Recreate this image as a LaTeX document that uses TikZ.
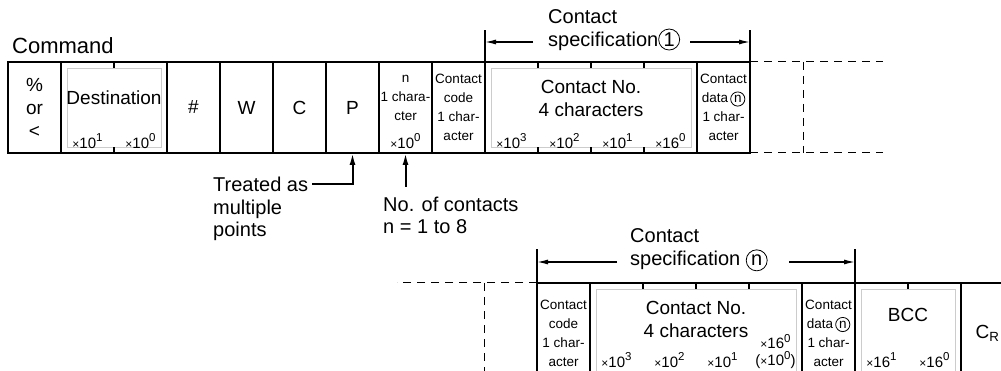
\documentclass[tikz,border=0pt]{standalone}
\usepackage{fontspec}
\setmainfont{Liberation Sans}
\usetikzlibrary{arrows.meta,positioning,calc}

\newcommand{\txtbig}{\fontsize{19}{23}\selectfont}
\newcommand{\txtlbl}{\fontsize{20}{23}\selectfont}
\newcommand{\txtsmall}{\fontsize{13.5}{19}\selectfont}
\newcommand{\txtmult}{\fontsize{15}{17}\selectfont}
\newcommand{\circnum}[1]{\tikz[baseline=(char.base)]\node[circle,draw,line width=0.8pt,inner sep=0pt,minimum size=1.05em](char){#1};}
% x base^power, the way the tables print it
\newcommand{\mulpow}[2]{{\fontsize{12}{12}\selectfont×}#1\raisebox{0.45em}{\fontsize{11.5}{11.5}\selectfont#2}}

\begin{document}
\begin{tikzpicture}[
    x=1pt, y=-1pt,
    cellbox/.style={
        rectangle,
        draw,
        line width=1.2pt,
        outer sep=0pt,
        inner sep=0pt,
        minimum width=53pt,
        minimum height=91pt,
        align=center,
        font=\txtbig
    },
    smallbox/.style={cellbox, font=\txtsmall},
    wide/.style={minimum width=106pt},
    quad/.style={minimum width=212pt},
    lowrow/.style={minimum height=100pt},
    innerbox/.style={draw=black!20, line width=0.8pt},
    tickline/.style={line width=1.2pt},
    celltext/.style={inner sep=0pt, align=center, font=\txtbig},
    multext/.style={inner sep=0pt, align=center, font=\txtmult},
    labeltext/.style={inner sep=0pt, align=left, font=\txtlbl},
    specline/.style={line width=1.2pt},
    specarrow/.style={
        -{Latex[length=11pt,width=5pt]},
        line width=1.3pt
    },
    arrow/.style={
        -{Latex[length=12pt,width=6pt]},
        line width=2pt
    },
    dashline/.style={dash pattern=on 8pt off 6pt, line width=1pt}
]
\useasboundingbox (0,0) rectangle (1001,371);
\clip (0,0) rectangle (1001,371);

% =========================
% Command row
% =========================

\node[labeltext, font=\fontsize{22}{26}\selectfont, anchor=west] (cmd) at (12,46) {Command};

\node[cellbox, anchor=north west] (pct) at (8,62) {\%\\or\\<};
\node[cellbox, wide, right=0pt of pct] (dest) {};
\node[cellbox, right=0pt of dest] (hash) {\#};
\node[cellbox, right=0pt of hash] (w) {W};
\node[cellbox, right=0pt of w] (c) {C};
\node[cellbox, right=0pt of c] (p) {P};
\node[smallbox, right=0pt of p] (nchar) {};
\node[smallbox, right=0pt of nchar] (code) {Contact\\code\\1 char-\\acter};
\node[cellbox, quad, right=0pt of code] (cno) {};
\node[smallbox, right=0pt of cno] (cdata) {Contact\\data\,\circnum{n}\\1 char-\\acter};

% destination
\draw[innerbox] ([shift={(6pt,-6pt)}]dest.north west) rectangle ([shift={(-6pt,6pt)}]dest.south east);
\draw[tickline] (dest.north) -- ++(0,6) (dest.south) -- ++(0,-6);
\node[celltext] (desttxt) at ([yshift=-36pt]dest.north) {Destination};
\node[multext] (dest1) at ([xshift=-26.5pt,yshift=12pt]dest.south) {\mulpow{10}{1}};
\node[multext] (dest0) at ([xshift=26.5pt,yshift=12pt]dest.south) {\mulpow{10}{0}};

% number of contacts
\node[celltext, font=\txtsmall] (nchartxt) at ([yshift=-36pt]nchar.north) {n\\1 chara-\\cter};
\node[multext] (nchar0) at ([yshift=12pt]nchar.south) {\mulpow{10}{0}};

% contact number
\draw[innerbox] ([shift={(6pt,-6pt)}]cno.north west) rectangle ([shift={(-6pt,6pt)}]cno.south east);
\foreach \k in {1,2,3}
    \draw[tickline] ([xshift=\k*53pt]cno.north west) -- ++(0,6)
                    ([xshift=\k*53pt]cno.south west) -- ++(0,-6);
\node[celltext] (cnotxt) at ([yshift=-36pt]cno.north) {Contact No.\\4 characters};
\foreach \k/\b/\pw in {0/10/3,1/10/2,2/10/1,3/16/0}
    \node[multext] (cnol\k) at ([xshift={26.5pt+\k*53pt},yshift=12pt]cno.south west) {\mulpow{\b}{\pw}};

% contact specification 1
\draw[specline] (cno.north west) -- ++(0,-32);
\draw[specline] (cdata.north east) -- ++(0,-32);
\node[labeltext, anchor=west] (spec1) at (548,30) {Contact\\specification\circnum{1}};
\coordinate (s1l) at ([yshift=20pt]cno.north west);
\coordinate (s1r) at ([yshift=20pt]cdata.north east);
\draw[specarrow] ([xshift=48pt]s1l) -- (s1l);
\draw[specarrow] ([xshift=-60pt]s1r) -- (s1r);

% repeated part
\draw[dashline] (cdata.north east) -- ++(133,0);
\draw[dashline] (cdata.south east) -- ++(133,0);
\draw[dashline] ([xshift=53pt]cdata.north east) -- ([xshift=53pt]cdata.south east);

% =========================
% Notes
% =========================

\node[labeltext, font=\fontsize{20}{22.5}\selectfont, anchor=north west] (treated) at (213,177) {Treated as\\multiple\\points};
\draw[arrow] ($(treated.north east)+(4,7)$) -| (p.south);

\node[labeltext, font=\fontsize{20}{22}\selectfont, anchor=north west] (nocont) at (383,197) {No. of contacts\\n = 1 to 8};
\draw[arrow] ($(nchar.south |- nocont.north)+(0,-10)$) -- (nchar.south);

% =========================
% Last contact row
% =========================

\node[smallbox, lowrow, anchor=north west] (lcode) at (537,283) {Contact\\code\\1 char-\\acter};
\node[cellbox, lowrow, quad, right=0pt of lcode] (lcno) {};
\node[smallbox, lowrow, right=0pt of lcno] (ldata) {Contact\\data\,\circnum{n}\\1 char-\\acter};
\node[cellbox, lowrow, wide, right=0pt of ldata] (bcc) {};
\node[cellbox, lowrow, right=0pt of bcc] (cr) {C\textsubscript{R}};

\draw[innerbox] ([shift={(6pt,-6pt)}]lcno.north west) rectangle ([shift={(-6pt,6pt)}]lcno.south east);
\foreach \k in {1,2,3}
    \draw[tickline] ([xshift=\k*53pt]lcno.north west) -- ++(0,6);
\node[celltext] (lcnotxt) at ([yshift=-36pt]lcno.north) {Contact No.\\4 characters};
\foreach \k/\pw in {0/3,1/2,2/1}
    \node[multext] (lcnol\k) at ([xshift={26.5pt+\k*53pt},yshift=-77pt]lcno.north west) {\mulpow{10}{\pw}};
\node[multext] (lcnol3) at ([xshift=185.5pt,yshift=-68.5pt]lcno.north west) {\mulpow{16}{0}\\(\mulpow{10}{0})};

\draw[innerbox] ([shift={(6pt,-6pt)}]bcc.north west) rectangle ([shift={(-6pt,6pt)}]bcc.south east);
\draw[tickline] (bcc.north) -- ++(0,6);
\node[celltext] (bcctxt) at ([yshift=-32pt]bcc.north) {BCC};
\node[multext] (bcc1) at ([xshift=26.5pt,yshift=-77pt]bcc.north west) {\mulpow{16}{1}};
\node[multext] (bcc0) at ([xshift=79.5pt,yshift=-77pt]bcc.north west) {\mulpow{16}{0}};

% contact specification n
\draw[specline] (lcode.north west) -- ++(0,-34);
\draw[specline] (ldata.north east) -- ++(0,-34);
\node[labeltext, anchor=west] (specn) at (630,250) {Contact\\specification \circnum{n}};
\coordinate (snl) at ([yshift=21pt]lcode.north west);
\coordinate (snr) at ([yshift=21pt]ldata.north east);
\draw[specarrow] ([xshift=80pt]snl) -- (snl);
\draw[specarrow] ([xshift=-66pt]snr) -- (snr);

\draw[dashline] (lcode.north west) -- ++(-140,0);
\draw[dashline] ([xshift=-53pt]lcode.north west) -- ++(0,100);

\end{tikzpicture}
\end{document}
